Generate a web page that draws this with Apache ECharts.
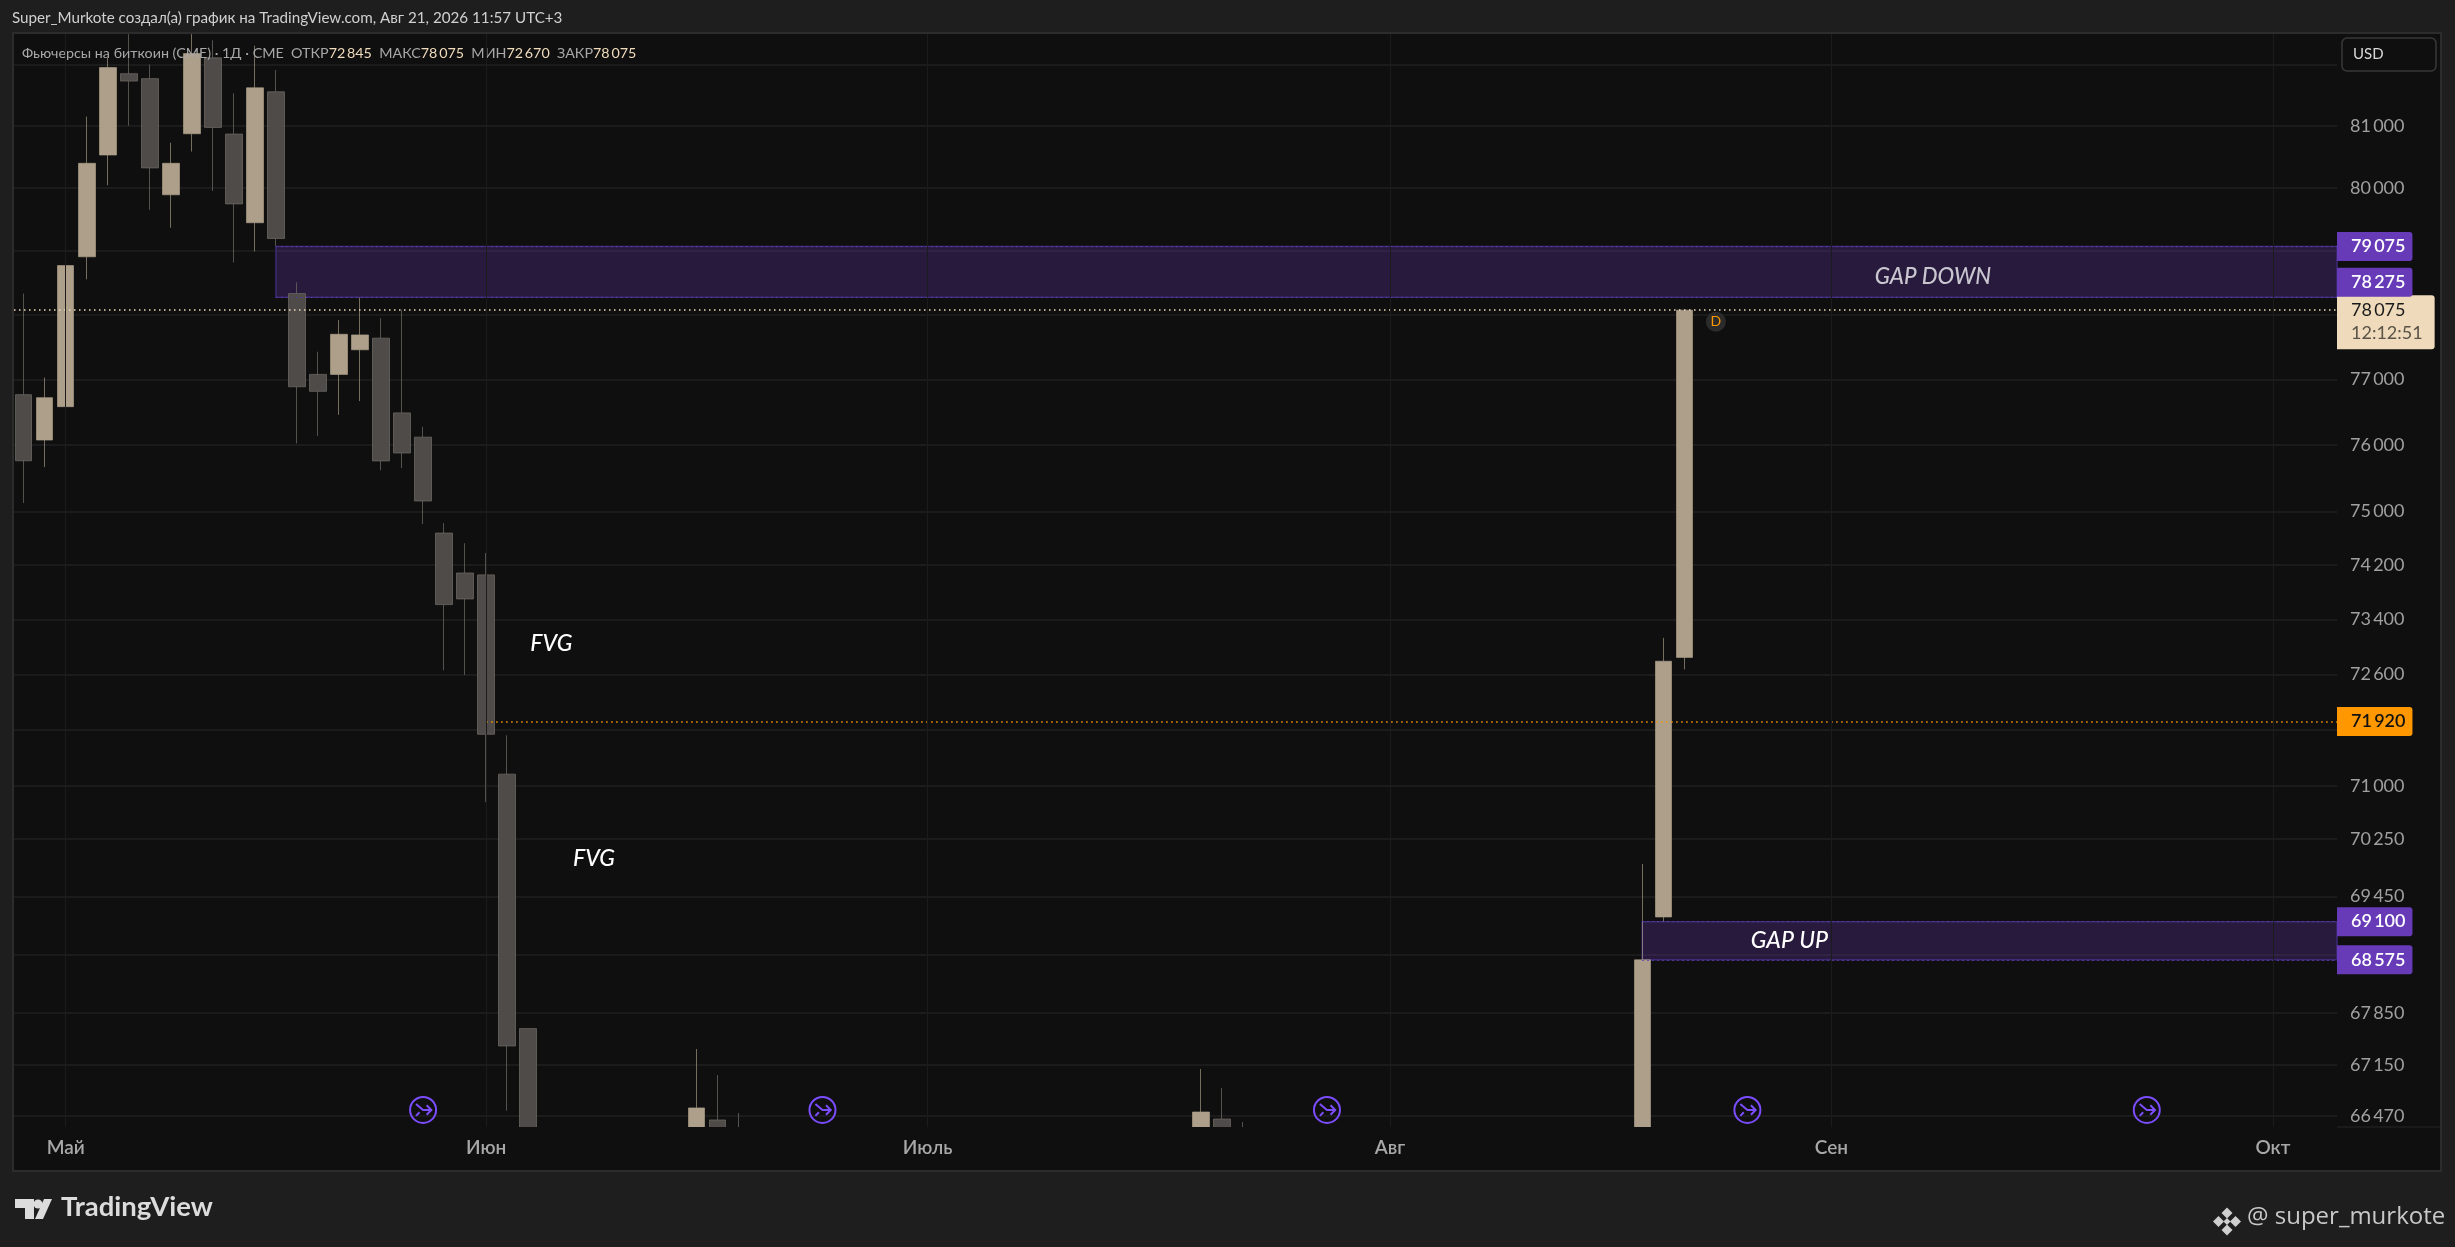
<!DOCTYPE html>
<html><head><meta charset="utf-8">
<style>html,body{margin:0;padding:0;background:#1e1e1e}#c{width:2455px;height:1247px}</style>
<script src="https://cdn.jsdelivr.net/npm/echarts@6/dist/echarts.min.js"></script>
</head><body><div id="c"></div>
<script>
const barIndex=[0,1,2,3,4,5,6,7,8,9,10,11,12,13,14,15,16,17,18,19,20,21,22,23,24,32,33,34,56,57,58,77,78,79];
const openP =[76769,76076,76585,78912,80532,81850,81770,79895,80875,82110,80870,79450,81555,78334,77080,77080,77460,77640,76490,76120,74676,74083,74055,71166,67640,66000,66417,66100,66000,66430,66200,66000,69165,72845];
const closeP=[75762,76723,78773,80399,81951,81730,80325,80399,82180,80977,79750,81620,79200,76890,76820,77700,77690,75760,75880,75156,73617,73700,71735,67406,65800,66577,66000,66000,66523,66000,66100,68575,72789,78075];
const lowP  =[75126,75668,76528,78558,80048,81005,79655,79370,80588,79955,78823,78997,79085,76025,76140,76460,76670,75620,75650,74810,72657,72590,70770,66540,65790,65800,65800,65800,65800,65800,65800,65900,69100,72670];
const highP =[78334,77031,79424,81152,82110,82500,82000,80730,82500,82400,81530,82310,81910,78510,77430,77920,78270,77950,78080,76277,74824,74525,74380,71720,67640,67365,67015,66510,67097,66843,66390,69900,73130,78075];
const yTicks=[82000,81000,80000,79000,78000,77000,76000,75000,74200,73400,72600,71800,71000,70250,69450,68650,67850,67150,66470];
const yLabels=[81000,80000,77000,76000,75000,74200,73400,72600,71800,71000,70250,69450,67850,67150,66470];
const monthIdx=[2,22,43,65,86,107];
const monthNames=['Май','Июн','Июль','Авг','Сен','Окт'];
const zoneDown=[79075,78275], zoneUp=[69100,68575];
const lastPrice=78075, srPrice=71920;
const iconIdx=[19,38,62,82,101];
const FONT='Lato';
const xMin=-0.4615,xMax=110.05;
const fmt=v=>String(v).replace(/(\d{2})(\d{3})/,'$1\u2009$2');
const rows=barIndex.map((x,i)=>[x,openP[i],closeP[i],lowP[i],highP[i]]);
const ICON='path://M12 1a11 11 0 1 0 0 22a11 11 0 1 0 0-22 M6 7L12 12H19 M15 8L19 12L15 16 M6 17L9 14';
const tag=(v,bg,col,dy)=>({formatter:fmt(v),show:true,position:'end',distance:0,offset:[0,dy||0],backgroundColor:bg,color:col,fontFamily:FONT,fontSize:18,fontWeight:600,padding:[6,7,5,14],borderRadius:[0,3,3,0]});
const seg=(x,v,color,label,w)=>[{xAxis:x,yAxis:v,lineStyle:{color,type:[1.5,3.5],width:w||1.5},label},{xAxis:xMax,yAxis:v}];
const note=(x,y,t,col,size,weight)=>({coord:[x,y],symbol:'circle',symbolSize:1,itemStyle:{color:'transparent'},label:{show:true,position:'inside',formatter:t,color:col,fontFamily:FONT,fontStyle:'italic',fontWeight:weight||500,fontSize:size||23}});
const dia=(cx,cy,r,fill)=>({type:'polygon',z:50,shape:{points:[[cx,cy-r],[cx+r,cy],[cx,cy+r],[cx-r,cy]]},style:{fill}});
const zoneStyle={color:'rgba(103,58,183,0.28)',borderColor:'#3f2a78',borderWidth:1.5};
const chart=echarts.init(document.getElementById('c'),null,{renderer:'canvas'});
chart.setOption({
 animation:false,backgroundColor:'#1e1e1e',
 title:[
  {text:'Super_Murkote создал(а) график на TradingView.com, Авг 21, 2026 11:57 UTC+3',left:12,top:11,padding:0,textStyle:{color:'#d0d0d0',fontFamily:FONT,fontSize:15.2,fontWeight:400}},
  {text:'Фьючерсы на биткоин (CME) · 1Д · CME  ОТКР{v|72\u2009845}  МАКС{v|78\u2009075}  МИН{v|72\u2009670}  ЗАКР{v|78\u2009075}',left:22,top:46,padding:0,textStyle:{color:'#a8a8a8',fontFamily:FONT,fontSize:14.3,fontWeight:400,rich:{v:{color:'#f0dcbc',fontFamily:FONT,fontSize:14.3}}}}
 ],
 graphic:[
  {type:'rect',z:-10,shape:{x:13,y:33,width:2428,height:1138},style:{fill:'#0f0f0f',stroke:'#2c2c2c',lineWidth:2}},
  {type:'rect',z:5,shape:{x:14,y:1127,width:2323,height:43},style:{fill:'#0f0f0f'}},
  {type:'line',z:-9,shape:{x1:2337,y1:1127,x2:2441,y2:1127},style:{stroke:'#262626',lineWidth:1}},
  {type:'rect',z:50,shape:{x:2342,y:38,width:94,height:33,r:5},style:{fill:'#0f0f0f',stroke:'#383838',lineWidth:1.5}},
  {type:'text',z:51,x:2353,y:47,style:{text:'USD',fill:'#d8d8d8',font:'15px '+FONT}},
  {type:'polygon',z:50,shape:{points:[[15,1199],[34,1199],[34,1219],[25,1219],[25,1208],[15,1208]]},style:{fill:'#dcdcdc'}},
  {type:'circle',z:50,shape:{cx:38,cy:1204,r:4.5},style:{fill:'#dcdcdc'}},
  {type:'polygon',z:50,shape:{points:[[44,1199],[52,1199],[43,1219],[35,1219]]},style:{fill:'#dcdcdc'}},
  {type:'text',z:50,x:61,y:1193,style:{text:'TradingView',fill:'#dcdcdc',font:'700 27.5px '+FONT}},
  dia(2227,1213,5.5,'#cfcfcf'),dia(2227,1230,5.5,'#cfcfcf'),dia(2218.5,1221.5,5.5,'#cfcfcf'),dia(2235.5,1221.5,5.5,'#cfcfcf'),dia(2227,1221.5,3.5,'#cfcfcf'),
  {type:'text',z:50,x:2247,y:1205,style:{text:'@ super_murkote',fill:'#c8c8c8',font:'24px "Open Sans"'}}
 ],
 grid:{left:14,top:34,width:2323,height:1093,containLabel:false},
 xAxis:{type:'value',min:xMin,max:xMax,z:10,
  axisLine:{show:false},
  axisTick:{show:false,customValues:monthIdx},
  axisLabel:{customValues:monthIdx,margin:11,color:'#a8a8a8',fontFamily:FONT,fontSize:19,fontWeight:600,formatter:v=>monthNames[monthIdx.indexOf(v)]||''},
  splitLine:{show:true,lineStyle:{color:'#1c1c1c',width:1}}},
 yAxis:{type:'log',logBase:10,position:'right',min:66324,max:82502,
  axisLine:{show:false},
  axisTick:{show:false,customValues:yTicks},
  axisLabel:{customValues:yLabels,margin:13,color:'#a0a0a0',fontFamily:FONT,fontSize:18,formatter:v=>fmt(Math.round(v))},
  splitLine:{show:true,lineStyle:{color:'#212121',width:1.5}}},
 series:[{
  type:'candlestick',data:rows,encode:{x:0,y:[1,2,3,4]},barWidth:17,clip:true,
  itemStyle:{color:'#ae9f8a',color0:'#4f4b48',borderColor:'rgba(174,159,138,0.65)',borderColor0:'rgba(110,105,100,0.75)',borderColorDoji:'rgba(110,105,100,0.75)',borderWidth:1},
  markArea:{silent:true,data:[
   [{xAxis:12,yAxis:zoneDown[0],itemStyle:zoneStyle},{xAxis:xMax,yAxis:zoneDown[1]}],
   [{xAxis:77,yAxis:zoneUp[0],itemStyle:zoneStyle},{xAxis:xMax,yAxis:zoneUp[1]}]
  ]},
  markLine:{silent:true,symbol:['none','none'],animation:false,precision:0,data:[
   seg(22,srPrice,'#ff9800',tag(srPrice,'#ff9800','#111')),
   seg(12,zoneDown[0],'#5e3fb0',tag(zoneDown[0],'#673ab7','#fff'),1),
   seg(77,zoneUp[0],'#5e3fb0',tag(zoneUp[0],'#673ab7','#fff'),1),
   seg(77,zoneUp[1],'#5e3fb0',tag(zoneUp[1],'#673ab7','#fff'),1),
   seg(xMin,lastPrice,'#efdcbc',{show:true,position:'end',distance:0,offset:[0,12],backgroundColor:'#efdabb',borderRadius:[0,3,3,0],padding:[4,12,4,14],formatter:'{a|'+fmt(lastPrice)+'}\n{b|12:12:51}',rich:{a:{color:'#1a1a1a',fontFamily:FONT,fontSize:18,lineHeight:23},b:{color:'#5a5348',fontFamily:FONT,fontSize:18,lineHeight:23}}}),
   seg(12,zoneDown[1],'#5e3fb0',tag(zoneDown[1],'#673ab7','#fff',-15),1)
  ]},
  markPoint:{silent:true,animation:false,data:[
   note(25.1,73050,'FVG','#ffffff'),
   note(27.13,69983,'FVG','#ffffff'),
   note(90.83,78600,'GAP DOWN','#c9c6d0',22.3),
   note(84,68844,'GAP UP','#ffffff'),
   {coord:[80.5,77896],symbol:'circle',symbolSize:20,itemStyle:{color:'#2b2b2b'},label:{show:true,position:'inside',formatter:'D',color:'#ff9800',fontFamily:FONT,fontSize:14}},
   ...iconIdx.map(x=>({coord:[x,66550],symbol:ICON,symbolSize:26,itemStyle:{color:'transparent',borderColor:'#7c4dff',borderWidth:2},label:{show:false}}))
  ]}
 }]
});
</script></body></html>
